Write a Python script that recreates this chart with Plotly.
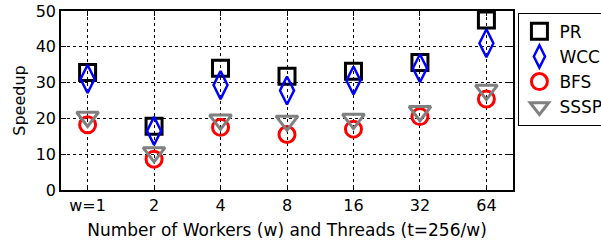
import plotly.graph_objects as go

categories = ["w=1", "2", "4", "8", "16", "32", "64"]
pr = [32.8, 17.8, 34.0, 31.8, 33.2, 35.6, 47.5]
wcc = [31.0, 16.5, 29.3, 27.8, 30.6, 34.0, 41.0]
bfs = [18.2, 8.6, 17.5, 15.5, 17.0, 20.5, 25.4]
sssp = [20.4, 10.5, 19.6, 19.3, 19.8, 22.0, 27.9]

fig = go.Figure()
series = [
    ("PR", pr, "square-open", "black", 16, 3),
    ("WCC", wcc, "diamond-tall-open", "#0000ff", 20, 2.5),
    ("BFS", bfs, "circle-open", "#ff0000", 16, 3),
    ("SSSP", sssp, "triangle-down-open", "#808080", 19, 3),
]
for name, vals, sym, col, sz, lw in series:
    fig.add_trace(go.Scatter(
        x=categories, y=vals, name=name, mode="markers", legendgroup=name,
        marker=dict(symbol=sym, size=sz, color=col, line=dict(color=col, width=lw)),
        cliponaxis=False,
    ))

fig.update_layout(
    width=601, height=244,
    margin=dict(l=61, r=88, t=11, b=54, autoexpand=False),
    paper_bgcolor="white", plot_bgcolor="white",
    font=dict(family="DejaVu Sans", size=16, color="black"),
    showlegend=True,
    legend=dict(x=1.012, y=0.99, xanchor="left", yanchor="top",
                bordercolor="black", borderwidth=1, bgcolor="white",
                font=dict(family="DejaVu Sans", size=17, color="black"),
                tracegroupgap=0, itemwidth=30),
)
fig.update_xaxes(
    type="category", range=[-0.4, 6.4], automargin=False,
    title=dict(text="Number of Workers (w) and Threads (t=256/w)", standoff=10,
               font=dict(size=17)),
    tickfont=dict(size=16),
    showline=True, linecolor="black", linewidth=1.5, mirror="ticks",
    ticks="inside", ticklen=5, tickcolor="black",
    showgrid=True, gridcolor="black", gridwidth=1, griddash="dot",
    zeroline=False,
)
fig.update_yaxes(
    range=[0, 50], tickvals=[0, 10, 20, 30, 40, 50], automargin=False,
    title=dict(text="Speedup", standoff=6, font=dict(size=16)),
    tickfont=dict(size=16),
    showline=True, linecolor="black", linewidth=1.5, mirror="ticks",
    ticks="inside", ticklen=5, tickcolor="black",
    showgrid=True, gridcolor="black", gridwidth=1, griddash="dot",
    zeroline=False,
)
fig.write_html("out.html", config={"displayModeBar": False},
               post_script="document.body.style.margin='0px';document.body.style.overflow='hidden';")
